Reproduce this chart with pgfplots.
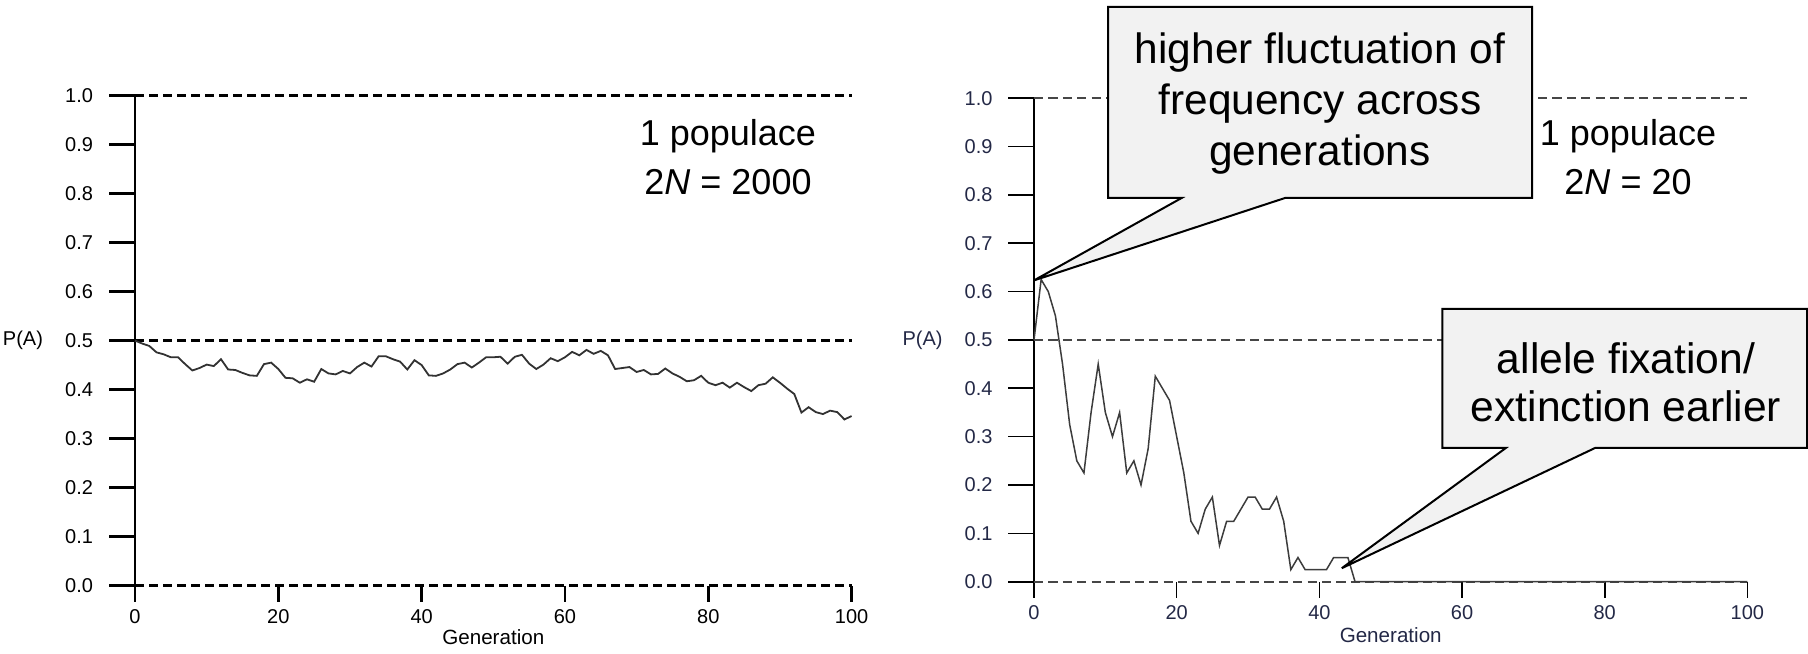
\documentclass[border=0pt]{standalone}
\usepackage{pgfplots}
\pgfplotsset{compat=1.18}
\usepackage{pgfplotstable}
\usepackage{fontspec}
\setmainfont{Liberation Sans}

\definecolor{callfill}{RGB}{242,242,242}
\definecolor{lineL}{RGB}{50,50,50}
\definecolor{lineR}{RGB}{60,60,60}
\definecolor{dashR}{RGB}{70,70,70}
\definecolor{textR}{RGB}{35,40,70}

% P(A) per generation, 2N = 2000
\pgfplotstableread{
gen p
0 0.500
1 0.494
2 0.489
3 0.476
4 0.472
5 0.466
6 0.466
7 0.452
8 0.439
9 0.444
10 0.451
11 0.448
12 0.462
13 0.441
14 0.440
15 0.434
16 0.429
17 0.428
18 0.452
19 0.455
20 0.442
21 0.424
22 0.423
23 0.414
24 0.421
25 0.416
26 0.442
27 0.433
28 0.431
29 0.438
30 0.433
31 0.446
32 0.455
33 0.447
34 0.468
35 0.468
36 0.462
37 0.457
38 0.441
39 0.460
40 0.450
41 0.429
42 0.428
43 0.433
44 0.441
45 0.452
46 0.455
47 0.445
48 0.455
49 0.466
50 0.466
51 0.467
52 0.453
53 0.467
54 0.471
55 0.453
56 0.442
57 0.451
58 0.464
59 0.458
60 0.466
61 0.477
62 0.470
63 0.481
64 0.473
65 0.479
66 0.470
67 0.442
68 0.444
69 0.446
70 0.436
71 0.440
72 0.431
73 0.432
74 0.443
75 0.433
76 0.426
77 0.417
78 0.419
79 0.428
80 0.414
81 0.409
82 0.414
83 0.404
84 0.414
85 0.405
86 0.397
87 0.409
88 0.412
89 0.425
90 0.414
91 0.402
92 0.391
93 0.353
94 0.364
95 0.354
96 0.350
97 0.357
98 0.354
99 0.339
100 0.346
}\bigpop

% P(A) per generation, 2N = 20
\pgfplotstableread{
gen p
0 0.500
1 0.625
2 0.600
3 0.550
4 0.450
5 0.325
6 0.250
7 0.225
8 0.350
9 0.450
10 0.350
11 0.300
12 0.350
13 0.225
14 0.250
15 0.200
16 0.275
17 0.425
18 0.400
19 0.375
20 0.300
21 0.225
22 0.125
23 0.100
24 0.150
25 0.175
26 0.075
27 0.125
28 0.125
29 0.150
30 0.175
31 0.175
32 0.150
33 0.150
34 0.175
35 0.125
36 0.025
37 0.050
38 0.025
39 0.025
40 0.025
41 0.025
42 0.050
43 0.050
44 0.050
45 0.000
100 0.000
}\smallpop

\pgfplotsset{
  drift/.style={
    scale only axis,
    xmin=0, xmax=100, ymin=0, ymax=1,
    enlargelimits=false,
    clip=false,
    axis lines=left,
    axis line style={-},
    x axis line style={draw=none},
    tick align=outside,
    major tick length=13pt,
    ytick={0,0.1,0.2,0.3,0.4,0.5,0.6,0.7,0.8,0.9,1},
    xtick=\empty,
    extra x ticks={0,20,40,60,80,100},
    extra x tick style={major tick length=8pt, tick align=outside},
    extra y ticks={0,0.5,1},
    extra y tick labels={},
    extra y tick style={grid=major, major tick length=0pt},
    /pgf/number format/assume math mode=true,
    tick label style={font=\fontsize{10}{12}\selectfont},
    yticklabel style={/pgf/number format/.cd, fixed, fixed zerofill, precision=1, /tikz/.cd, xshift=-4pt},
    xlabel={Generation},
    every axis x label/.style={at={(axis description cs:0.5,0)}, anchor=center, yshift=-26pt, font=\fontsize{10.3}{12}\selectfont},
    ylabel={P(A)},
    every axis y label/.style={at={(axis description cs:0,0.5)}, anchor=east, xshift=-42pt, font=\fontsize{10}{12}\selectfont},
  },
  tickw/.style={
    line width=#1,
    tick style={black, line width=#1},
    every major tick/.append style={black, line width=#1},
    every y tick/.append style={line width=#1},
    every x tick/.append style={line width=#1},
    every extra x tick/.append style={line width=#1},
    y axis line style={line width=#1},
  },
}

\begin{document}
\begin{tikzpicture}
\useasboundingbox (0,0) rectangle (904pt,326.5pt);

% left: 2N = 2000
\begin{axis}[drift,
  at={(67.5pt,33.75pt)}, anchor=south west,
  width=358.3pt, height=244.9pt,
  tickw=1.4pt,
  major grid style={black, line width=1.3pt, dash pattern=on 4.4pt off 2.6pt},
]
\addplot[lineL, line width=0.9pt] table[x=gen, y=p] {\bigpop};
\end{axis}

% right: 2N = 20
\begin{axis}[drift,
  at={(517pt,35.65pt)}, anchor=south west,
  width=356.7pt, height=241.75pt,
  tickw=0.8pt,
  major grid style={dashR, line width=0.8pt, dash pattern=on 4.6pt off 2.6pt},
  tick label style={text=textR},
  every axis x label/.append style={text=textR, yshift=-0.8pt},
  every axis y label/.append style={text=textR},
]
\addplot[lineR, line width=0.75pt] table[x=gen, y=p] {\smallpop};
\end{axis}

% population notes
\node[align=center, font=\fontsize{18}{24.2}\selectfont] at (364pt,248pt)
  {1 populace\\2\textit{N} = 2000};
\node[align=center, font=\fontsize{18}{24.2}\selectfont] at (814pt,248pt)
  {1 populace\\2\textit{N} = 20};

% callouts
\draw[fill=callfill, line width=1pt, line join=miter]
  (554pt,227.5pt) -- (590.8pt,227.5pt) -- (517pt,186.3pt) -- (642.5pt,227.5pt)
  -- (766pt,227.5pt) -- (766pt,323pt) -- (554pt,323pt) -- cycle;
\node[align=center, font=\fontsize{21.2}{25.5}\selectfont] at (660pt,274.5pt)
  {higher fluctuation of\\frequency across\\generations};

\draw[fill=callfill, line width=1pt, line join=miter]
  (721.2pt,102.5pt) -- (752.9pt,102.5pt) -- (670.9pt,42.4pt) -- (797.5pt,102.5pt)
  -- (903.5pt,102.5pt) -- (903.5pt,172pt) -- (721.2pt,172pt) -- cycle;
\node[align=center, font=\fontsize{21.3}{24}\selectfont] at (813pt,135.5pt)
  {allele fixation/\\extinction earlier};
\end{tikzpicture}
\end{document}
